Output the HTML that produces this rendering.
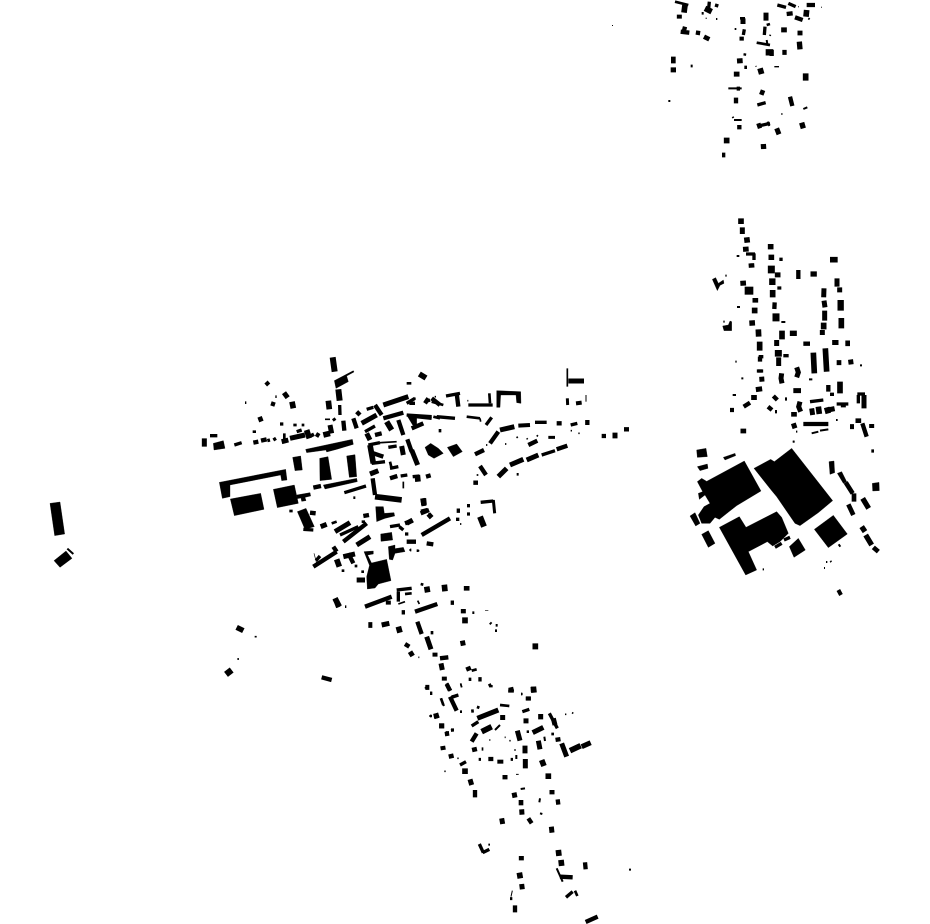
<!DOCTYPE html>
<html><head><meta charset="utf-8"><style>
html,body{margin:0;padding:0;background:#fff}
svg{display:block}
path{fill:none;stroke:#000}
polygon{fill:#000;stroke:#000;stroke-width:1}
</style></head><body>
<svg width="930" height="924" viewBox="0 0 930 924" xmlns="http://www.w3.org/2000/svg">
<rect width="930" height="924" fill="#fff"/>
<rect x="612" y="25" width="1" height="1" fill="#000"/>

<!-- East industrial -->
<g transform="translate(680 440) scale(.33333)">
<polygon points="52,125 65,115 80,124 193,63 243,153 170,197 147,215 118,238 105,232 90,250 65,250 55,225 72,200 90,190 75,165 58,178 55,160 68,155"/>
<polygon points="222,85 272,58 283,65 335,25 458,182 415,218 360,257 345,250 290,170 275,152"/>
<polygon points="118,262 178,230 198,262 290,215 305,232 325,280 300,305 278,318 262,305 205,335 230,390 197,405"/>
<polygon points="403,268 460,226 502,282 445,323"/>
<polygon points="328,320 355,295 376,330 342,352"/>
<polygon points="65,283 85,272 105,310 85,322"/>
<polygon points="30,228 45,218 60,250 47,258"/>
<polygon points="50,30 78,25 82,50 52,52"/>
<polygon points="52,80 82,72 84,85 60,92"/>
<polygon points="130,52 165,40 167,47 135,60"/>
<polygon points="447,65 462,63 464,98 450,103"/>
<polygon points="472,100 485,95 500,125 490,130"/>
<polygon points="577,130 597,127 598,152 578,153"/>
<path stroke-width="14" d="M497 127 518 160M522 160 522 185M505 193 520 225M580 322 595 335"/>
<path stroke-width="16" d="M548 175 566 205M545 260 555 275M557 285 575 315"/>
<path stroke-width="10" d="M312 300 330 292M285 322 305 310M574 33 582 33"/>
<path stroke-width="12" d="M475 450 483 465"/>
<path stroke-width="6" d="M339 5 343 5M476 313 481 320M432 384 435 384M438 366 442 366M451 363 454 366M248 388 252 388"/>
</g>

<!-- East housing -->
<g transform="translate(680 210) scale(.33333)">
<polygon points="97,208 107,203 115,220 130,210 132,220 120,226 112,242"/>
<polygon points="128,348 145,345 150,333 155,335 155,362 132,362"/>
<path stroke-width="26" d="M207 230 207 254"/>
<path stroke-width="21" d="M274 167 274 190M295 420 295 440M288 310 288 334M340 362 340 378"/>
<path stroke-width="19" d="M401 184 401 200M482 270 482 302M277 205 277 225M466 390 466 405M240 478 240 488M236 530 238 545"/>
<path stroke-width="17" d="M183 25 183 42M200 82 202 98M197 110 198 125M214 160 215 173M272 102 272 118M274 134 274 150M189 212 190 227M226 264 226 278M224 293 224 310M216 331 217 347M235 358 236 380M239 395 239 422M293 187 293 202M450 149 473 149M431 338 431 358M484 324 484 355M278 240 278 262M306 362 306 388M400 428 403 490M436 415 440 485M496 400 510 400M190 656 190 670M480 515 480 550M415 590 418 612M440 592 445 610M342 606 342 620M535 625 535 639M222 555 222 570"/>
<path stroke-width="15" d="M187 52 187 72M471 205 471 230M479 232 479 247M432 235 431 262M432 272 435 292M434 302 434 332M427 360 427 375M290 390 290 408M296 442 296 468M245 500 246 515M305 490 303 505 306 520M350 472 355 487 350 502M340 542 363 542M395 595 398 615M455 590 458 605M340 640 345 655M490 578 490 592M575 642 575 654M510 650 522 650M552 555 552 595M360 575 356 590 362 605M470 458 484 458M505 457 520 455"/>
<path stroke-width="13" d="M284 277 283 297M355 180 355 207M240 478 240 488M240 440 240 455M547 640 560 680M370 642 445 642M191 590 210 578M150 600 162 600M445 525 445 545M370 401 390 401M276 600 264 590M280 558 292 570"/>
<path stroke-width="10" d="M236 440 250 440M390 575 430 570M298 148 308 148M292 234 304 234M310 437 326 437M198 132 225 132M222 130 222 150M450 553 462 553M470 582 505 582M532 552 555 552M535 555 535 580M211 165 218 165M285 605 291 605M315 567 321 567"/>
<path stroke-width="6" d="M166 455 170 455M158 555 168 555M170 138 178 138M171 291 180 291M304 336 316 336M395 670 415 665M420 662 445 658M184 505 190 505M136 197 140 197M130 335 134 335M540 466 546 466M348 665 352 665M338 695 344 695M387 508 397 508M468 630 473 630"/>
</g>

<!-- North village -->
<g transform="translate(660 0) scale(.33333)">
<path stroke-width="19" d="M317 157 340 157"/>
<path stroke-width="17" d="M75 15 72 38M135 25 155 35M239 175 240 190M230 215 230 230M200 413 200 430M300 205 305 222M372 82 372 97M440 30 438 50M437 220 437 242"/>
<path stroke-width="16" d="M40 202 40 217M310 432 311 447M418 125 420 148M425 368 430 385"/>
<path stroke-width="15" d="M249 55 249 72M318 38 318 62M58 44 58 56M350 385 357 403M420 92 420 106M367 157 380 157M300 275 313 280"/>
<path stroke-width="14" d="M40 170 40 190M132 110 148 118"/>
<path stroke-width="13" d="M75 80 70 100M62 95 88 98M115 92 113 105M245 110 245 122M228 293 228 310M238 375 238 388M380 42 398 40M405 52 428 60M440 15 465 15M390 290 397 318M295 370 300 385M335 150 335 168"/>
<path stroke-width="10" d="M148 5 145 35M165 15 175 18M253 88 250 105M235 260 235 272M191 458 191 472M253 202 261 202M315 80 313 105M292 315 317 308M352 15 378 22M385 10 407 20M295 378 330 370"/>
<path stroke-width="8" d="M45 5 85 15M240 55 255 55M92 198 98 198M255 160 254 167M125 40 131 40M320 75 330 72M290 128 330 135"/>
<path stroke-width="6" d="M205 265 245 265M224 87 229 87M25 303 31 303M222 360 245 360M320 120 322 132M430 327 442 322M323 365 328 378M168 57 172 57M218 350 220 354M445 55 449 58"/>
<path stroke-width="4" d="M343 200 357 200M137 55 140 55M287 198 289 200M363 342 368 342M415 20 417 20M328 105 333 107M483 22 485 22"/>
</g>

<!-- Central town -->
<g transform="translate(190 350) scale(.33333)">
<polygon points="88,397 287,358 291,390 275,392 272,375 120,405 120,440 97,445"/>
<polygon points="121,447 212,430 222,478 133,497"/>
<polygon points="250,418 313,405 325,460 262,473"/>
<polygon points="347,298 487,268 490,283 440,298 410,306 408,300 350,308"/>
<polygon points="308,322 332,318 337,360 315,362"/>
<polygon points="389,325 414,320 425,388 390,392"/>
<polygon points="470,318 495,314 500,380 478,382"/>
<polygon points="400,405 500,385 502,395 405,417"/>
<polygon points="322,485 348,475 373,530 345,538"/>
<polygon points="557,470 580,470 583,490 612,488 614,498 585,505 560,515"/>
<polygon points="540,640 590,628 603,692 565,702 555,714 532,717 530,680"/>
<polygon points="522,605 550,603 550,612 533,615 545,640 538,645"/>
<polygon points="572,552 605,547 608,570 573,574"/>
<polygon points="595,590 615,585 615,596 640,592 645,605 615,610 608,630 598,628"/>
<polygon points="433,92 490,62 492,66 470,78 475,95 438,115"/>
<polygon points="70,280 100,272 105,295 72,300"/>
<polygon points="320,435 360,428 362,438 345,442 348,452 335,454 333,444 322,446"/>
<polygon points="650,195 680,198 680,230 668,225"/>
<path stroke-width="18" d="M428 22 434 65M445 118 449 152"/>
<path stroke-width="17" d="M415 152 418 178M306 155 310 175M688 72 708 84M350 240 358 265M400 255 420 250M555 440 635 450M540 285 550 340M590 215 605 240M440 628 448 650"/>
<path stroke-width="15" d="M43 265 43 290M282 128 293 143M205 210 218 205M275 275 295 270M300 265 345 255M420 225 425 250M530 250 540 270M515 220 560 195M580 165 655 140M635 288 640 315M665 300 683 345M540 372 565 362M698 445 702 468M715 492 725 503M392 530 410 523M435 545 480 518M500 585 540 560M460 620 495 612M500 690 525 690"/>
<path stroke-width="13" d="M243 160 255 164M228 96 236 105M190 278 205 275M213 272 230 268M378 252 388 258M460 212 463 242M500 185 510 195M490 205 500 235M555 165 575 195M725 145 750 165M580 205 640 188M625 210 640 255M665 235 700 220M555 255 575 250M652 268 665 305M550 310 580 320M600 385 622 378M708 380 722 376M548 385 555 435M692 490 717 480M645 520 668 512M650 575 678 575M520 498 537 495M360 488 377 490M460 575 530 520M370 650 440 605M430 590 440 605M475 610 490 640M370 413 393 408"/>
<path stroke-width="10" d="M60 257 82 257M133 285 155 278M232 272 240 270M250 270 258 265M320 245 335 240M270 222 280 222M365 250 370 260M449 165 450 195M430 205 435 212M530 178 550 172M650 160 675 145M680 200 725 205M525 245 555 228M535 285 570 278M595 292 620 288M545 340 585 335M600 355 625 350M632 378 652 375M668 380 688 378M600 530 630 525M628 530 640 540M645 552 655 552M463 428 528 408M340 538 370 540M450 555 505 530M705 155 720 150M378 632 390 618"/>
<path stroke-width="8" d="M188 245 198 245M283 250 283 270M310 225 320 225M335 225 343 225M600 335 605 355M650 100 664 100M730 200 750 205M710 380 714 380M298 483 308 483M455 662 463 662M494 648 502 648M514 665 522 665M660 600 664 600M680 602 686 602M515 515 525 515M425 520 440 515M165 158 169 158M256 140 260 140M490 443 496 443"/>
<path stroke-width="5" d="M405 208 420 208M570 278 620 275M640 395 640 415"/>
<path stroke-width="2" d="M372 610 380 640"/>
<path stroke-width="17" d="M682 375 684 395"/>
</g>

<!-- Eastern extension of town -->
<g transform="translate(360 360) scale(.33333)">
<polygon points="410,92 482,95 483,130 470,128 468,105 422,105 420,142 410,142"/>
<polygon points="195,262 212,250 235,265 250,280 222,295 205,285"/>
<polygon points="262,262 290,252 307,275 280,290"/>
<path stroke-width="18" d="M360 470 372 500"/>
<path stroke-width="17" d="M190 415 192 435"/>
<path stroke-width="15" d="M625 63 672 63M420 210 463 200M765 218 765 235M450 315 490 298M500 300 535 285M415 350 440 325M140 490 158 480"/>
<path stroke-width="13" d="M195 130 205 115M290 100 295 140M345 283 372 270M390 250 415 215M590 190 605 190M682 180 682 195M725 228 738 228M792 208 807 208M505 255 532 242M590 268 622 257M360 318 378 345M340 368 354 368M290 452 300 452M183 455 203 450M205 465 212 465M185 525 270 475M200 550 220 553"/>
<path stroke-width="12" d="M648 130 665 128M475 197 510 195"/>
<path stroke-width="10" d="M325 135 398 135M258 108 300 100M148 130 165 130M140 165 215 170M230 170 285 175M378 195 395 172M236 212 244 212M525 187 560 187M632 195 652 190M545 285 585 272M362 427 400 423M288 478 298 478M321 437 330 437M321 462 330 462"/>
<path stroke-width="9" d="M622 115 623 135M565 232 585 232M400 420 404 460"/>
<path stroke-width="8" d="M215 125 250 135M388 100 390 130M320 170 360 175M470 343 476 343"/>
<path stroke-width="5" d="M622 25 622 80M360 175 362 185M632 212 636 212M655 220 659 220M470 230 473 234M500 235 503 238M530 226 534 229M435 252 439 252M378 255 382 255M322 122 325 122M224 110 228 110M163 115 167 115M350 345 355 345M300 492 304 492M148 570 152 570M174 572 178 572"/>
<path stroke-width="3" d="M678 105 678 125"/>
</g>

<!-- South road -->
<g transform="translate(330 580) scale(.33333)">
<path stroke-width="17" d="M15 55 28 80M290 20 293 37M343 14 345 34M410 18 410 32M405 112 405 130M115 135 127 135M205 140 210 158M616 190 616 208M610 320 612 338M543 328 543 338"/>
<path stroke-width="15" d="M155 135 178 130M400 87 400 100M175 62 175 74M290 170 303 208M397 182 400 197M240 215 248 228M315 218 315 230M333 250 337 270M413 260 418 272M343 290 343 302M286 322 298 322M595 350 595 362M317 400 320 415M335 430 335 445"/>
<path stroke-width="13" d="M105 80 185 50M255 95 322 72M262 125 275 162M225 192 238 200M330 235 355 232M350 312 360 332M362 68 372 68M215 97 225 97M445 298 455 298M360 350 380 392M347 460 357 460"/>
<path stroke-width="10" d="M200 30 245 25M205 35 205 65M302 158 310 158M416 298 424 298M476 318 484 314M300 340 307 340M365 352 385 345"/>
<path stroke-width="8" d="M272 12 280 14M425 272 440 268M225 42 245 40M333 355 340 375M495 152 501 152M480 128 484 132M497 136 503 136M427 98 433 98M45 80 49 80M446 378 443 386M427 388 428 398M390 395 396 395M300 408 305 408M363 452 370 450M573 342 577 342"/>
<path stroke-width="5" d="M205 72 225 65M263 62 268 72M392 312 395 322M265 232 268 232"/>
<path stroke-width="2" d="M465 92 475 91"/>
</g>

<!-- South village -->
<g transform="translate(420 680) scale(.33333)">
<path stroke-width="17" d="M135 265 135 282M185 155 215 140M365 240 372 258M385 280 385 297M298 578 301 595M415 510 417 528M423 540 425 558M450 212 482 197"/>
<path stroke-width="15" d="M272 22 275 35M340 20 340 36M325 49 325 61M172 115 235 90M248 105 248 120M318 115 318 130M362 102 362 118M338 158 370 142M292 152 300 182M355 182 360 208M400 115 405 135M413 172 415 185M425 190 440 230M485 200 512 188M47 100 52 115M65 130 65 145M68 198 70 210M92 222 95 235M150 298 155 315M162 202 165 215M315 197 315 220M316 237 316 265M255 285 255 298M396 330 396 343M282 338 285 353M305 388 306 404M245 415 248 432M394 440 396 458M304 528 304 541M305 612 307 628"/>
<path stroke-width="14" d="M303 360 303 376"/>
<path stroke-width="13" d="M80 155 82 168M155 185 170 160M165 330 165 352M205 237 220 237M413 358 415 374M325 415 335 430M495 547 497 568M285 676 285 697M420 590 458 592M497 726 533 710"/>
<path stroke-width="12" d="M232 245 250 245"/>
<path stroke-width="10" d="M16 20 24 26M30 40 36 40M80 10 92 32M213 15 213 22M120 255 138 245M155 138 175 125M307 95 328 88M388 100 412 145M178 492 190 518M188 518 208 508M438 652 458 635M185 207 190 207M93 150 102 150"/>
<path stroke-width="9" d="M176 238 183 238M272 238 279 238M270 656 277 656"/>
<path stroke-width="8" d="M95 50 115 45M240 75 268 78M320 155 327 155M465 632 472 648M394 162 402 162"/>
<path stroke-width="6" d="M62 55 72 78M28 108 36 108M289 225 289 237M373 170 375 183M302 327 315 325M360 400 367 402M205 494 210 494M627 569 633 569M410 565 428 605M225 150 240 135M360 355 358 367"/>
<path stroke-width="5" d="M122 10 125 22M122 95 126 95M112 235 116 235M304 42 308 42M283 210 287 210M268 182 272 182M254 172 257 172M208 180 211 180M73 274 77 274M435 103 439 103M456 98 460 100"/>
<path stroke-width="3" d="M277 632 273 650M288 283 296 283"/>
</g>

<!-- West outliers -->
<g transform="translate(40 490) scale(.33333)">
<polygon points="30,40 60,36 74,132 44,137"/>
<polygon points="42,212 78,183 96,205 60,232"/>
<path stroke-width="6" d="M82 176 100 192"/>
<path stroke-width="16" d="M590 412 610 422"/>
<path stroke-width="19" d="M558 553 575 540"/>
<path stroke-width="13" d="M845 562 875 570"/>
<path stroke-width="5" d="M644 440 650 440M592 507 597 507"/>
<path stroke-width="14" d="M885 325 895 352"/>
</g>
</svg>
</body></html>
